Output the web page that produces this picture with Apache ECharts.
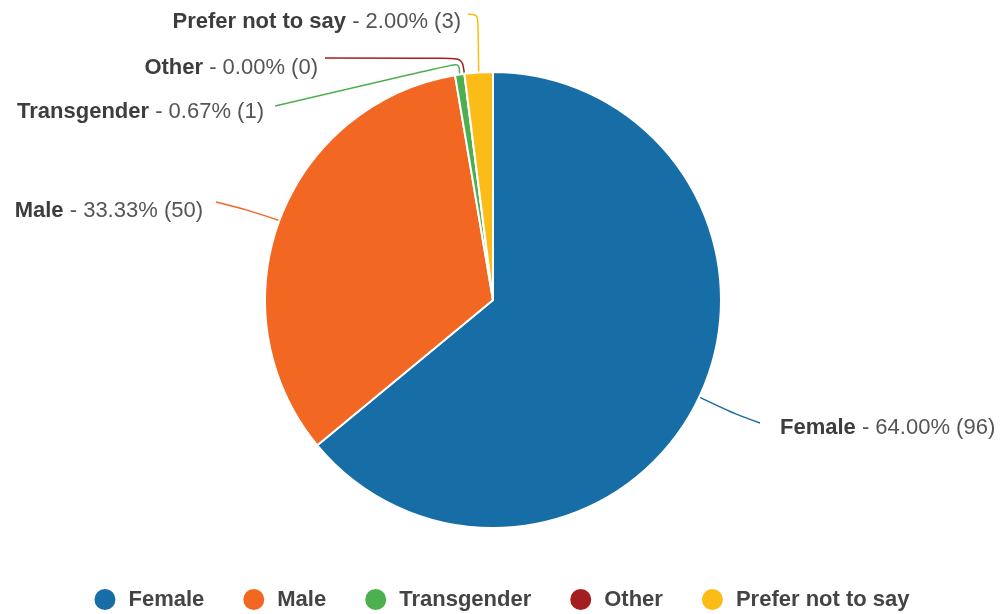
<!DOCTYPE html>
<html>
<head>
<meta charset="utf-8">
<script src="https://cdn.jsdelivr.net/npm/echarts@6/dist/echarts.min.js"></script>
<style>
  html, body { margin: 0; padding: 0; background: #ffffff; }
  #chart { width: 1002px; height: 614px; }
</style>
</head>
<body>
<div id="chart"></div>
<script>
// ---- data ----
const categories = ['Female', 'Male', 'Transgender', 'Other', 'Prefer not to say'];
const counts = [96, 50, 1, 0, 3];
const colors = ['#176ea6', '#f26722', '#4caf50', '#a31f1f', '#fbbc18'];

// ---- label layout (placement only, not data) ----
const labelPlacement = [
  { x: 780, y: 428, align: 'left',  elbow: [735, 414], end: [760, 423] },
  { x: 203, y: 211, align: 'right', elbow: [248, 210], end: [216, 202] },
  { x: 264, y: 112, align: 'right', elbow: [459, 63],  end: [275, 106] },
  { x: 318, y: 68,  align: 'right', elbow: [462, 58],  end: [325, 58] },
  { x: 461, y: 22,  align: 'right', elbow: [478, 15],  end: [468, 14] }
];

const chart = echarts.init(document.getElementById('chart'), null, { renderer: 'canvas' });

const seriesData = categories.map((c, i) => ({
  name: c,
  value: counts[i],
  itemStyle: { color: colors[i] },
  labelLine: { lineStyle: { color: colors[i] } }
}));

const FONT = '"Liberation Sans", Arial, Helvetica, sans-serif';

chart.setOption({
  animation: false,
  backgroundColor: '#ffffff',
  legend: {
    data: categories,
    left: 'center',
    top: 582,
    icon: 'circle',
    itemWidth: 23,
    itemHeight: 23,
    itemGap: 37,
    textStyle: {
      fontFamily: FONT,
      fontSize: 22,
      fontWeight: 'bold',
      color: '#444444',
      padding: [0, 0, 0, 7]
    }
  },
  series: [{
    type: 'pie',
    center: [493, 300],
    radius: 228,
    startAngle: 90,
    clockwise: true,
    avoidLabelOverlap: false,
    itemStyle: { borderColor: '#ffffff', borderWidth: 2 },
    emphasis: { scale: false },
    label: {
      show: true,
      position: 'outside',
      fontFamily: FONT,
      formatter: function (p) {
        return '{n|' + p.name + '}{v| - ' + p.percent.toFixed(2) + '% (' + p.value + ')}';
      },
      rich: {
        n: { fontFamily: FONT, fontSize: 22, fontWeight: 'bold', color: '#3d3d3d' },
        v: { fontFamily: FONT, fontSize: 22, color: '#555555' }
      }
    },
    labelLine: {
      show: true,
      length: 20,
      length2: 20,
      smooth: 0.3,
      lineStyle: { width: 1.5 }
    },
    labelLayout: function (params) {
      const p = labelPlacement[params.dataIndex];
      const start = params.labelLinePoints ? params.labelLinePoints[0] : p.elbow;
      return {
        x: p.x,
        y: p.y,
        align: p.align,
        verticalAlign: 'middle',
        labelLinePoints: [start, p.elbow, p.end]
      };
    },
    data: seriesData
  }]
});
</script>
</body>
</html>
